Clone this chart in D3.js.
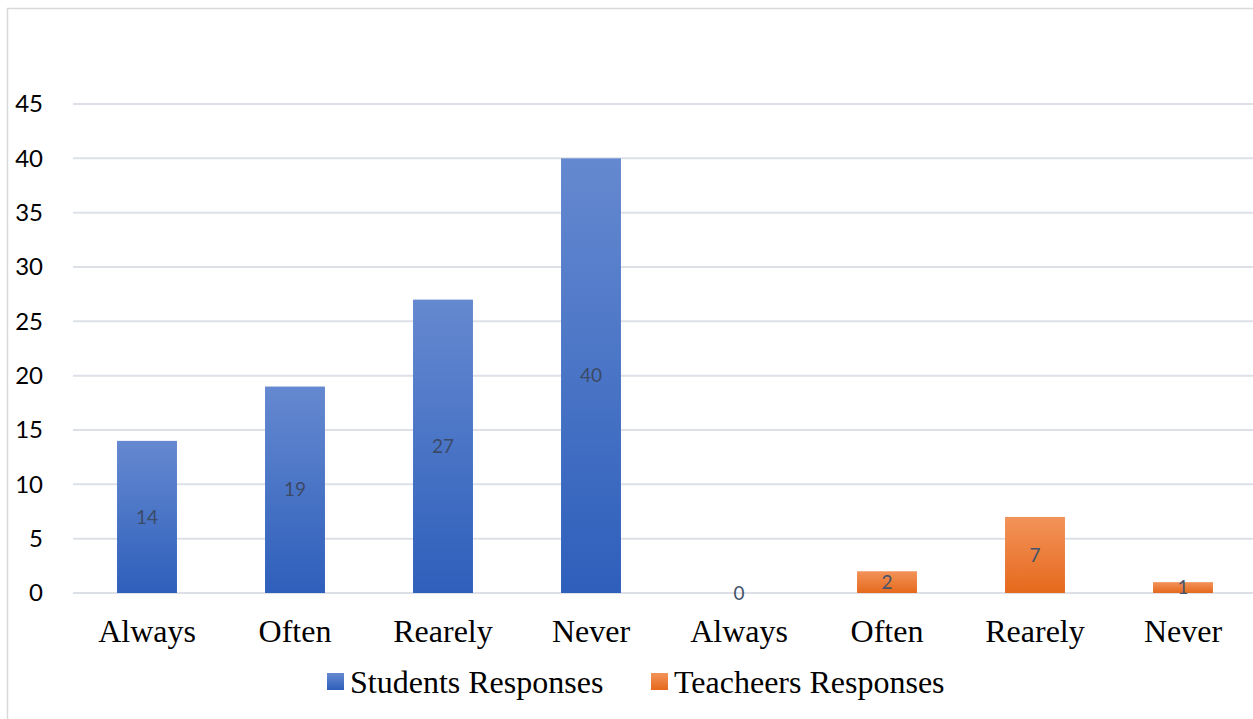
<!DOCTYPE html>
<html>
<head>
<meta charset="utf-8">
<script src="https://cdn.jsdelivr.net/npm/d3@7"></script>
<style>
  body { margin: 0; background: #fff; }
  svg { display: block; }
</style>
</head>
<body>
<div id="chart-area"></div>
<script>
// chart data
const categories = ["Always", "Often", "Rearely", "Never", "Always", "Often", "Rearely", "Never"];
const series = ["Students Responses", "Teacheers Responses"];
const studentValues = [14, 19, 27, 40];
const teacherValues = [0, 2, 7, 1];
const yTicks = [0, 5, 10, 15, 20, 25, 30, 35, 40, 45];

// one row per bar, categories repeat so keep an index key
const rows = categories.map((c, i) => ({
    key: i,
    label: c,
    series: i < 4 ? 0 : 1,
    value: i < 4 ? studentValues[i] : teacherValues[i - 4]
}));

const W = 1253, H = 719;
const margin = {top: 104, right: -4, bottom: 126, left: 73};
const width = W - margin.left - margin.right,
      height = H - margin.top - margin.bottom;

const svg = d3.select("#chart-area").append("svg")
    .attr("width", W)
    .attr("height", H);

// outer chart frame
svg.append("rect")
    .attr("x", 7.5).attr("y", 8.5)
    .attr("width", W + 10).attr("height", H + 10)
    .attr("fill", "none")
    .attr("stroke", "#d9d9d9")
    .attr("stroke-width", 1.5);

const defs = svg.append("defs");
const grads = [["#6589d0", "#2e5fbb"], ["#f3935a", "#e5691c"]];
grads.forEach((g, i) => {
    let lg = defs.append("linearGradient")
        .attr("id", "grad" + i)
        .attr("x1", 0).attr("y1", 0).attr("x2", 0).attr("y2", 1);
    lg.append("stop").attr("offset", "0%").attr("stop-color", g[0]);
    lg.append("stop").attr("offset", "100%").attr("stop-color", g[1]);
});

const g = svg.append("g")
    .attr("transform", "translate(" + margin.left + "," + margin.top + ")");

const x = d3.scaleBand()
    .domain(rows.map(d => d.key))
    .range([0, width])
    .paddingInner(0.595)
    .paddingOuter(0.2975);

const y = d3.scaleLinear()
    .domain([0, 45])
    .range([height, 0]);

// gridlines
g.append("g")
    .selectAll("line")
    .data(yTicks)
    .join("line")
    .attr("x1", 0).attr("x2", width)
    .attr("y1", d => y(d)).attr("y2", d => y(d))
    .attr("stroke", "#dde1e7")
    .attr("stroke-width", 2);

// y axis labels
const yAxis = g.append("g")
    .call(d3.axisLeft(y).tickValues(yTicks).tickSize(0).tickPadding(30));
yAxis.select(".domain").remove();
yAxis.selectAll("text")
    .attr("font-family", "Lato, 'Open Sans', sans-serif")
    .attr("font-size", 24)
    .attr("fill", "#000");

// x axis labels
const xAxis = g.append("g")
    .attr("transform", "translate(0," + height + ")")
    .call(d3.axisBottom(x).tickSize(0).tickPadding(26).tickFormat(k => rows[k].label));
xAxis.select(".domain").remove();
xAxis.selectAll("text")
    .attr("font-family", "'Liberation Serif', 'Times New Roman', serif")
    .attr("font-size", 32)
    .attr("fill", "#000");

// bars
g.selectAll(".bar")
    .data(rows)
    .join("rect")
    .attr("class", "bar")
    .attr("x", d => x(d.key))
    .attr("width", x.bandwidth())
    .attr("y", d => y(d.value))
    .attr("height", d => y(0) - y(d.value))
    .attr("fill", d => "url(#grad" + d.series + ")");

// value labels, centred in each bar
g.selectAll(".value-label")
    .data(rows)
    .join("text")
    .attr("class", "value-label")
    .attr("x", d => x(d.key) + x.bandwidth() / 2)
    .attr("y", d => (y(d.value) + y(0)) / 2)
    .attr("dy", "0.35em")
    .attr("text-anchor", "middle")
    .attr("font-family", "Lato, 'Open Sans', sans-serif")
    .attr("font-size", 19)
    .attr("fill", d => d.series === 0 ? "#3b4a66" : "#44546a")
    .text(d => d.value);

// legend
const legendX = [327, 651];
const legend = svg.append("g")
    .selectAll("g")
    .data(series)
    .join("g")
    .attr("transform", (d, i) => "translate(" + legendX[i] + ",673)");
legend.append("rect")
    .attr("width", 17).attr("height", 17)
    .attr("fill", (d, i) => "url(#grad" + i + ")");
legend.append("text")
    .attr("x", 23).attr("y", 20)
    .attr("font-family", "'Liberation Serif', 'Times New Roman', serif")
    .attr("font-size", 32)
    .attr("fill", "#000")
    .text(d => d);
</script>
</body>
</html>
